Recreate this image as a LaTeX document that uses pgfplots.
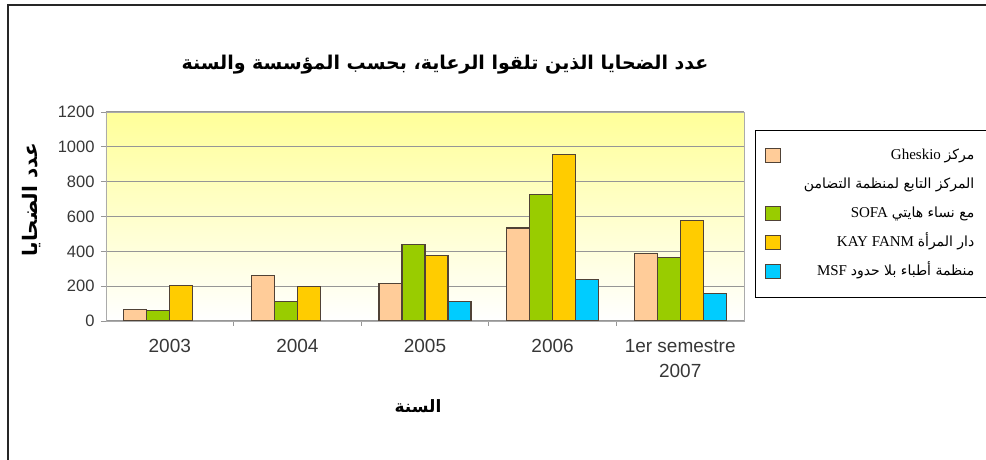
\documentclass[border=0pt]{standalone}
\usepackage{fontspec}
\usepackage{pgfplots}
\pgfplotsset{compat=1.18}
\setmainfont{Liberation Serif}
\newfontfamily\arabicfont[Script=Arabic]{DejaVu Sans}
\newfontfamily\tickfont{Liberation Sans}
\TeXXeTstate=1
\definecolor{cpeach}{RGB}{255,204,153}
\definecolor{cgreen}{RGB}{153,204,0}
\definecolor{cgold}{RGB}{255,204,0}
\definecolor{ccyan}{RGB}{0,204,255}
\definecolor{cedge}{RGB}{80,66,54}
\definecolor{bgyellow}{RGB}{255,255,153}
\definecolor{gridc}{RGB}{150,150,150}
\definecolor{tickc}{RGB}{55,55,55}
\begin{document}
\begin{tikzpicture}
\path[use as bounding box] (0pt,0pt) rectangle (986pt,460pt);
\draw[line width=1.3pt, black!85] (8pt,0pt) -- (8pt,455pt) -- (986pt,455pt);
\node[font=\arabicfont\bfseries\fontsize{19}{21}\selectfont] at (445pt,395pt) {\beginR عدد الضحايا الذين تلقوا الرعاية، بحسب المؤسسة والسنة\endR};
\node[font=\arabicfont\bfseries\fontsize{20}{22}\selectfont, rotate=90] at (32pt,260pt) {\beginR عدد الضحايا\endR};
\node[font=\arabicfont\bfseries\fontsize{17}{19}\selectfont] at (418pt,54pt) {\beginR السنة\endR};
\begin{axis}[
  at={(106pt,139pt)}, anchor=south west,
  scale only axis, width=638pt, height=209pt,
  xmin=-0.5, xmax=4.5, ymin=0, ymax=1200,
  ytick={0,200,...,1200},
  xtick={0,1,2,3,4},
  xticklabels={2003,2004,2005,2006,{1er semestre\\2007}},
  minor xtick={0.5,1.5,2.5,3.5},
  major x tick style={draw=none},
  tick align=outside,
  major tick length=5pt, minor tick length=5pt,
  tick style={gridc, line width=0.8pt},
  xtick pos=bottom, ytick pos=left,
  ymajorgrids, grid style={gridc, line width=1.1pt},
  axis line style={draw=gridc!80, line width=0.9pt},
  axis background/.style={top color=bgyellow, bottom color=white},
  /pgf/number format/assume math mode=true,
  /pgf/number format/1000 sep={},
  ticklabel style={text=tickc},
  xticklabel style={font=\tickfont\fontsize{19}{25}\selectfont, align=center, yshift=-10pt},
  yticklabel style={font=\tickfont\fontsize{16.5}{18}\selectfont, xshift=-3pt},
  ybar, bar width=0.18,
  every axis plot/.append style={draw=cedge, line width=1.2pt},
  legend style={at={(1.0172,0.9139)}, anchor=north west, draw=black, line width=0.7pt, fill=white,
    inner xsep=10pt, inner ysep=16pt, row sep=10pt, column sep=0pt,
    nodes={inner xsep=2pt, inner ysep=2pt, text height=11pt, text depth=4pt, font=\fontsize{15}{17}\selectfont}},
  legend cell align=right,
  legend image code/.code={\draw[#1, line width=1pt] (0pt,-7pt) rectangle (15pt,7pt);},
]
\addplot[fill=cpeach, bar shift=-0.27] coordinates {(0,67) (1,261) (2,213) (3,534) (4,388)};
\addlegendentry{\makebox[191pt][r]{\beginR{\arabicfont\fontsize{14}{16}\selectfont مركز} Gheskio\endR}}
\addlegendimage{empty legend}
\addlegendentry{\makebox[191pt][r]{\arabicfont\fontsize{14}{16}\selectfont\beginR المركز التابع لمنظمة التضامن\endR}}
\addplot[fill=cgreen, bar shift=-0.09] coordinates {(0,58) (1,111) (2,440) (3,726) (4,363)};
\addlegendentry{\makebox[191pt][r]{\beginR{\arabicfont\fontsize{14}{16}\selectfont مع نساء هايتي} SOFA\endR}}
\addplot[fill=cgold, bar shift=0.09] coordinates {(0,204) (1,196) (2,376) (3,954) (4,578)};
\addlegendentry{\makebox[191pt][r]{\beginR{\arabicfont\fontsize{14}{16}\selectfont دار المرأة} \beginL KAY FANM\endL\endR}}
\addplot[fill=ccyan, bar shift=0.27] coordinates {(2,111) (3,236) (4,159)};
\addlegendentry{\makebox[191pt][r]{\beginR{\arabicfont\fontsize{14}{16}\selectfont منظمة أطباء بلا حدود} MSF\endR}}
\end{axis}
\end{tikzpicture}
\end{document}
